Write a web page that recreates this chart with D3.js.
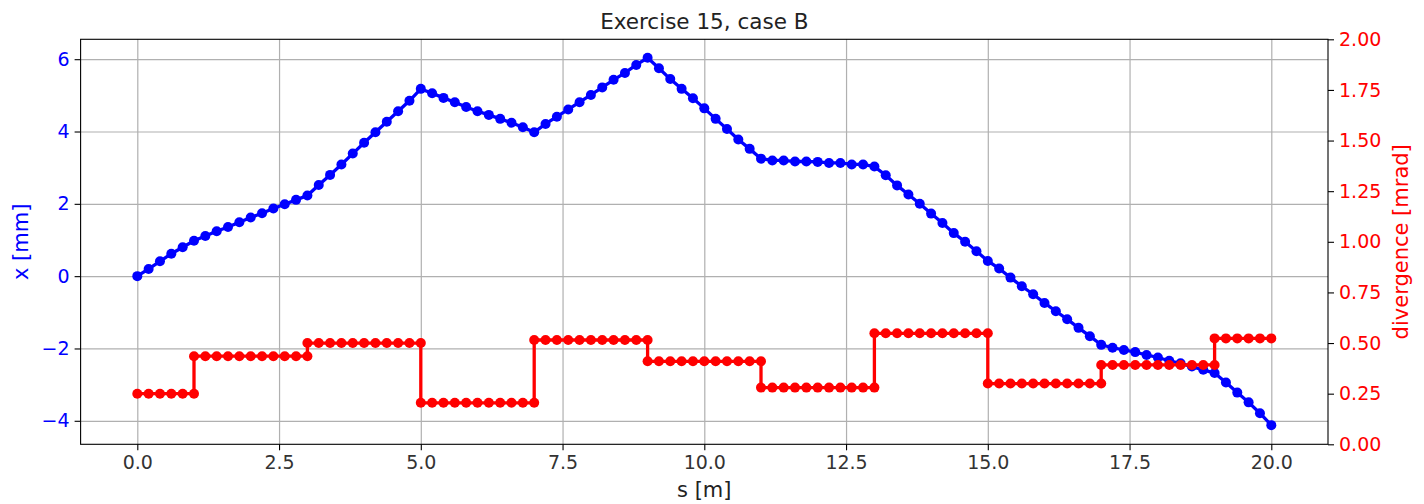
<!DOCTYPE html>
<meta charset="utf-8">
<style>
  body { margin: 0; background: #fff; }
  svg { font-family: "DejaVu Sans", sans-serif; }
</style>
<svg width="1424" height="504"></svg>
<script src="https://cdn.jsdelivr.net/npm/d3@7"></script>
<script>

// position along the line [m]
var s = [0,0.2,0.4,0.6,0.8,1,1.2,1.4,1.6,1.8,2,2.2,2.4,2.6,2.8,3,3.2,3.4,3.6,3.8,
  4,4.2,4.4,4.6,4.8,5,5.2,5.4,5.6,5.8,6,6.2,6.4,6.6,6.8,7,7.2,7.4,7.6,7.8,
  8,8.2,8.4,8.6,8.8,9,9.2,9.4,9.6,9.8,10,10.2,10.4,10.6,10.8,11,11.2,11.4,11.6,11.8,
  12,12.2,12.4,12.6,12.8,13,13.2,13.4,13.6,13.8,14,14.2,14.4,14.6,14.8,15,15.2,15.4,15.6,15.8,
  16,16.2,16.4,16.6,16.8,17,17.2,17.4,17.6,17.8,18,18.2,18.4,18.6,18.8,19,19.2,19.4,19.6,19.8,20];

// beam position x [mm]
var xmm = [0,0.20,0.41,0.62,0.80,0.98,1.11,1.24,1.36,1.49,1.62,1.74,1.87,1.99,2.11,2.23,2.52,2.80,3.09,3.39,
  3.69,3.98,4.27,4.56,4.85,5.18,5.06,4.93,4.81,4.68,4.56,4.46,4.35,4.24,4.12,3.98,4.21,4.41,4.61,4.81,
  5.01,5.22,5.43,5.62,5.84,6.04,5.75,5.45,5.18,4.92,4.64,4.35,4.07,3.78,3.52,3.25,3.20,3.20,3.17,3.17,
  3.16,3.13,3.13,3.09,3.09,3.03,2.79,2.51,2.26,2.00,1.73,1.47,1.19,0.95,0.69,0.42,0.21,-0.04,-0.28,-0.50,
  -0.74,-0.97,-1.19,-1.43,-1.66,-1.90,-1.98,-2.04,-2.10,-2.18,-2.25,-2.34,-2.41,-2.50,-2.59,-2.68,-2.94,-3.22,-3.49,-3.79,-4.12];

// divergence [mrad], boundary points repeated at each kick
var divS = [0,0.2,0.4,0.6,0.8,1,
  1,1.2,1.4,1.6,1.8,2,2.2,2.4,2.6,2.8,3,
  3,3.2,3.4,3.6,3.8,4,4.2,4.4,4.6,4.8,5,
  5,5.2,5.4,5.6,5.8,6,6.2,6.4,6.6,6.8,7,
  7,7.2,7.4,7.6,7.8,8,8.2,8.4,8.6,8.8,9,
  9,9.2,9.4,9.6,9.8,10,10.2,10.4,10.6,10.8,11,
  11,11.2,11.4,11.6,11.8,12,12.2,12.4,12.6,12.8,13,
  13,13.2,13.4,13.6,13.8,14,14.2,14.4,14.6,14.8,15,
  15,15.2,15.4,15.6,15.8,16,16.2,16.4,16.6,16.8,17,
  17,17.2,17.4,17.6,17.8,18,18.2,18.4,18.6,18.8,19,
  19,19.2,19.4,19.6,19.8,20];
var divVals = [0.25,0.25,0.25,0.25,0.25,0.25,
  0.435,0.435,0.435,0.435,0.435,0.435,0.435,0.435,0.435,0.435,0.435,
  0.50,0.50,0.50,0.50,0.50,0.50,0.50,0.50,0.50,0.50,0.50,
  0.205,0.205,0.205,0.205,0.205,0.205,0.205,0.205,0.205,0.205,0.205,
  0.515,0.515,0.515,0.515,0.515,0.515,0.515,0.515,0.515,0.515,0.515,
  0.41,0.41,0.41,0.41,0.41,0.41,0.41,0.41,0.41,0.41,0.41,
  0.28,0.28,0.28,0.28,0.28,0.28,0.28,0.28,0.28,0.28,0.28,
  0.548,0.548,0.548,0.548,0.548,0.548,0.548,0.548,0.548,0.548,0.548,
  0.30,0.30,0.30,0.30,0.30,0.30,0.30,0.30,0.30,0.30,0.30,
  0.392,0.392,0.392,0.392,0.392,0.392,0.392,0.392,0.392,0.392,0.392,
  0.523,0.523,0.523,0.523,0.523,0.523];

var sTicks = [0, 2.5, 5, 7.5, 10, 12.5, 15, 17.5, 20];
var xTicks = [-4, -2, 0, 2, 4, 6];
var divTicks = [0, 0.25, 0.5, 0.75, 1, 1.25, 1.5, 1.75, 2];

var svg = d3.select("svg"),
    pl = 80.6, pr = 1328, pt = 39.3, pb = 444.3,
    fs = 19, lfs = 21;

var x = d3.scaleLinear().domain([-1, 21]).range([pl, pr]);
var y = d3.scaleLinear().domain([-4.65, 6.55]).range([pb, pt]);
var y2 = d3.scaleLinear().domain([0, 2]).range([pb, pt]);

var minus = function(v) { return String(v).replace("-", "\u2212"); };

// grid
svg.append("g")
    .attr("transform", "translate(0," + pb + ")")
    .call(d3.axisBottom(x).tickValues(sTicks).tickSize(-(pb - pt)).tickFormat(""))
    .call(function(g) { g.select(".domain").remove(); })
    .selectAll("line").attr("stroke", "#b0b0b0").attr("stroke-width", 1.2);
svg.append("g")
    .attr("transform", "translate(" + pl + ",0)")
    .call(d3.axisLeft(y).tickValues(xTicks).tickSize(-(pr - pl)).tickFormat(""))
    .call(function(g) { g.select(".domain").remove(); })
    .selectAll("line").attr("stroke", "#b0b0b0").attr("stroke-width", 1.2);

// axes
var gx = svg.append("g")
    .attr("transform", "translate(0," + pb + ")")
    .call(d3.axisBottom(x).tickValues(sTicks).tickSize(6).tickPadding(5).tickFormat(d3.format(".1f")));
var gy = svg.append("g")
    .attr("transform", "translate(" + pl + ",0)")
    .call(d3.axisLeft(y).tickValues(xTicks).tickSize(6).tickPadding(5).tickFormat(minus));
var gy2 = svg.append("g")
    .attr("transform", "translate(" + pr + ",0)")
    .call(d3.axisRight(y2).tickValues(divTicks).tickSize(6).tickPadding(5).tickFormat(d3.format(".2f")));

[gx, gy, gy2].forEach(function(g) {
  g.attr("font-family", null).attr("font-size", fs);
  g.selectAll(".domain").remove();
  g.selectAll("line").attr("stroke", "#000").attr("stroke-width", 1.1);
});
gx.selectAll("text").attr("fill", "#333");
gy.selectAll("text").attr("fill", "#0000ff");
gy2.selectAll("text").attr("fill", "#ff0000");

// frame
svg.append("rect")
    .attr("x", pl).attr("y", pt)
    .attr("width", pr - pl).attr("height", pb - pt)
    .attr("fill", "none").attr("stroke", "#000").attr("stroke-width", 1.1);

// blue series
var pts = s.map(function(v, i) { return [v, xmm[i]]; });
svg.append("path")
    .datum(pts)
    .attr("fill", "none").attr("stroke", "#0000ff").attr("stroke-width", 3.3)
    .attr("d", d3.line().x(function(d) { return x(d[0]); }).y(function(d) { return y(d[1]); }));
svg.append("g").selectAll("circle")
    .data(pts)
  .enter().append("circle")
    .attr("cx", function(d) { return x(d[0]); })
    .attr("cy", function(d) { return y(d[1]); })
    .attr("r", 5)
    .attr("fill", "#0000ff");

// red series
var dpts = divS.map(function(v, i) { return [v, divVals[i]]; });
svg.append("path")
    .datum(dpts)
    .attr("fill", "none").attr("stroke", "#ff0000").attr("stroke-width", 3.3)
    .attr("d", d3.line().x(function(d) { return x(d[0]); }).y(function(d) { return y2(d[1]); }));
svg.append("g").selectAll("circle")
    .data(dpts)
  .enter().append("circle")
    .attr("cx", function(d) { return x(d[0]); })
    .attr("cy", function(d) { return y2(d[1]); })
    .attr("r", 5)
    .attr("fill", "#ff0000");

// labels
svg.append("text")
    .attr("x", (pl + pr) / 2).attr("y", 29)
    .attr("text-anchor", "middle").attr("font-size", 21.5).attr("fill", "#222")
    .text("Exercise 15, case B");
svg.append("text")
    .attr("x", (pl + pr) / 2).attr("y", 497)
    .attr("text-anchor", "middle").attr("font-size", lfs).attr("fill", "#222")
    .text("s [m]");
svg.append("text")
    .attr("transform", "translate(28," + (pt + pb) / 2 + ") rotate(-90)")
    .attr("text-anchor", "middle").attr("font-size", lfs).attr("fill", "#0000ff")
    .text("x [mm]");
svg.append("text")
    .attr("transform", "translate(1408," + (pt + pb) / 2 + ") rotate(-90)")
    .attr("text-anchor", "middle").attr("font-size", lfs).attr("fill", "#ff0000")
    .text("divergence [mrad]");

</script>
